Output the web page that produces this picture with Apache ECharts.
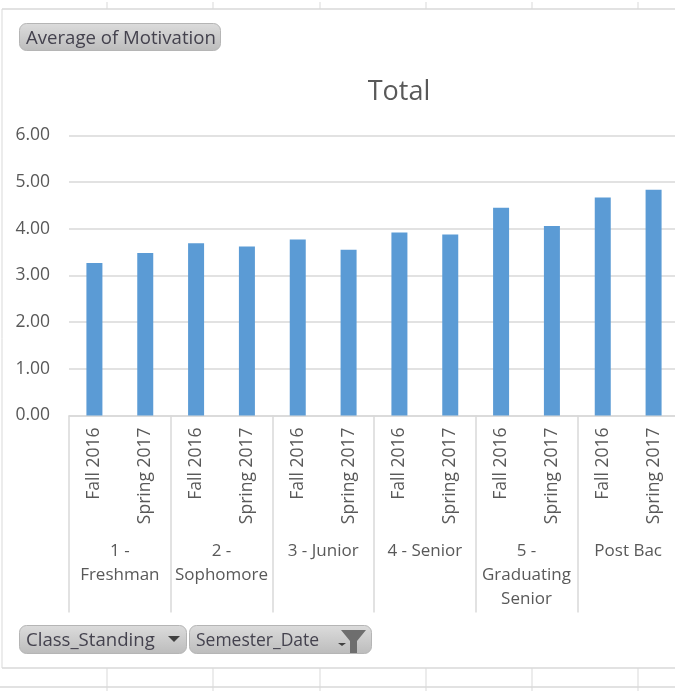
<!DOCTYPE html>
<html>
<head>
<meta charset="utf-8">
<style>html,body{margin:0;padding:0;background:#fff;overflow:hidden}#c{width:675px;height:691px}</style>
<script src="https://cdn.jsdelivr.net/npm/echarts@6/dist/echarts.min.js"></script>
</head>
<body>
<div id="c"></div>
<script>
var semesters = ['Fall 2016','Spring 2017','Fall 2016','Spring 2017','Fall 2016','Spring 2017','Fall 2016','Spring 2017','Fall 2016','Spring 2017','Fall 2016','Spring 2017'];
var standings = ['1 -\nFreshman','2 -\nSophomore','3 - Junior','4 - Senior','5 -\nGraduating\nSenior','Post Bac'];
var motivation = [3.27,3.48,3.69,3.62,3.77,3.55,3.92,3.88,4.45,4.06,4.67,4.84];
var yTicks = {min:0,max:6,interval:1};
var FONT = '"Open Sans","Noto Sans",sans-serif';
var GRAY = '#595959', LINE = '#d9d9d9';

function hline(y,x1,x2){return {type:'line',silent:true,shape:{x1:x1,y1:y,x2:x2,y2:y},style:{stroke:LINE,lineWidth:1.5}};}
function vline(x,y1,y2){return {type:'line',silent:true,shape:{x1:x,y1:y1,x2:x,y2:y2},style:{stroke:LINE,lineWidth:1}};}
function button(x,y,w,h,label,size){
  return [{type:'rect',silent:true,shape:{x:x,y:y,width:w,height:h,r:7},
    style:{stroke:'#b5b5b5',lineWidth:1,fill:{type:'linear',x:0,y:0,x2:0,y2:1,colorStops:[{offset:0,color:'#dcdcdc'},{offset:1,color:'#bcbcbc'}]}}},
   {type:'text',silent:true,x:x+6.5,y:y+h/2+1.5,style:{text:label,font:size+'px '+FONT,fill:'#44424e',verticalAlign:'middle',textAlign:'left'}}];
}
var chrome = [hline(9,2,675),hline(668,2,675),hline(687,0,675),vline(2,9,668)];
[107,213,320,426,532,638].forEach(function(x){chrome.push(vline(x,2,9));chrome.push(vline(x,668,691));});
chrome = chrome.concat(button(19.5,23.5,201,27,'Average of Motivation',18.6));
chrome = chrome.concat(button(19.5,625.5,167,28,'Class_Standing',18.6));
chrome = chrome.concat(button(189.5,625.5,182,28,'Semester_Date',17.5));
chrome.push({type:'polygon',silent:true,shape:{points:[[168,636],[180,636],[174,642]]},style:{fill:'#404040'}});
chrome.push({type:'polygon',silent:true,shape:{points:[[338,643],[346,643],[342,646]]},style:{fill:'#404040'}});
chrome.push({type:'polygon',silent:true,shape:{points:[[341,630],[366,630],[357,641],[357,653],[350,653],[350,641]]},style:{fill:'#6e6e6e'}});

var chart = echarts.init(document.getElementById('c'),null,{renderer:'canvas'});
chart.setOption({
  animation:false,
  backgroundColor:'#fff',
  title:{text:'Total',left:394,top:74,textAlign:'center',textStyle:{fontFamily:FONT,fontSize:27,fontWeight:'normal',color:GRAY}},
  grid:{left:69,top:135.5,width:610,height:280,outerBoundsMode:'none'},
  xAxis:[
    {type:'category',data:semesters,position:'bottom',
     axisLine:{lineStyle:{color:LINE,width:1.5}},axisTick:{show:false},
     axisLabel:{interval:0,rotate:90,margin:12,fontFamily:FONT,fontSize:17.5,color:GRAY}},
    {type:'category',data:standings,position:'bottom',
     axisLine:{show:false},
     axisTick:{show:true,alignWithLabel:false,interval:0,length:197,lineStyle:{color:LINE,width:1.5}},
     axisLabel:{interval:0,margin:124,fontFamily:FONT,fontSize:17,color:GRAY,lineHeight:24,verticalAlign:'top'}}
  ],
  yAxis:{type:'value',min:yTicks.min,max:yTicks.max,interval:yTicks.interval,
    axisLine:{show:false},axisTick:{show:false},
    splitLine:{lineStyle:{color:LINE,width:1.5}},
    axisLabel:{margin:19,fontFamily:FONT,fontSize:17.5,color:GRAY,formatter:function(v){return v.toFixed(2);}}},
  series:[{type:'bar',xAxisIndex:0,data:motivation,barWidth:16,itemStyle:{color:'#5b9bd5'}}],
  graphic:{elements:chrome}
});
</script>
</body>
</html>
